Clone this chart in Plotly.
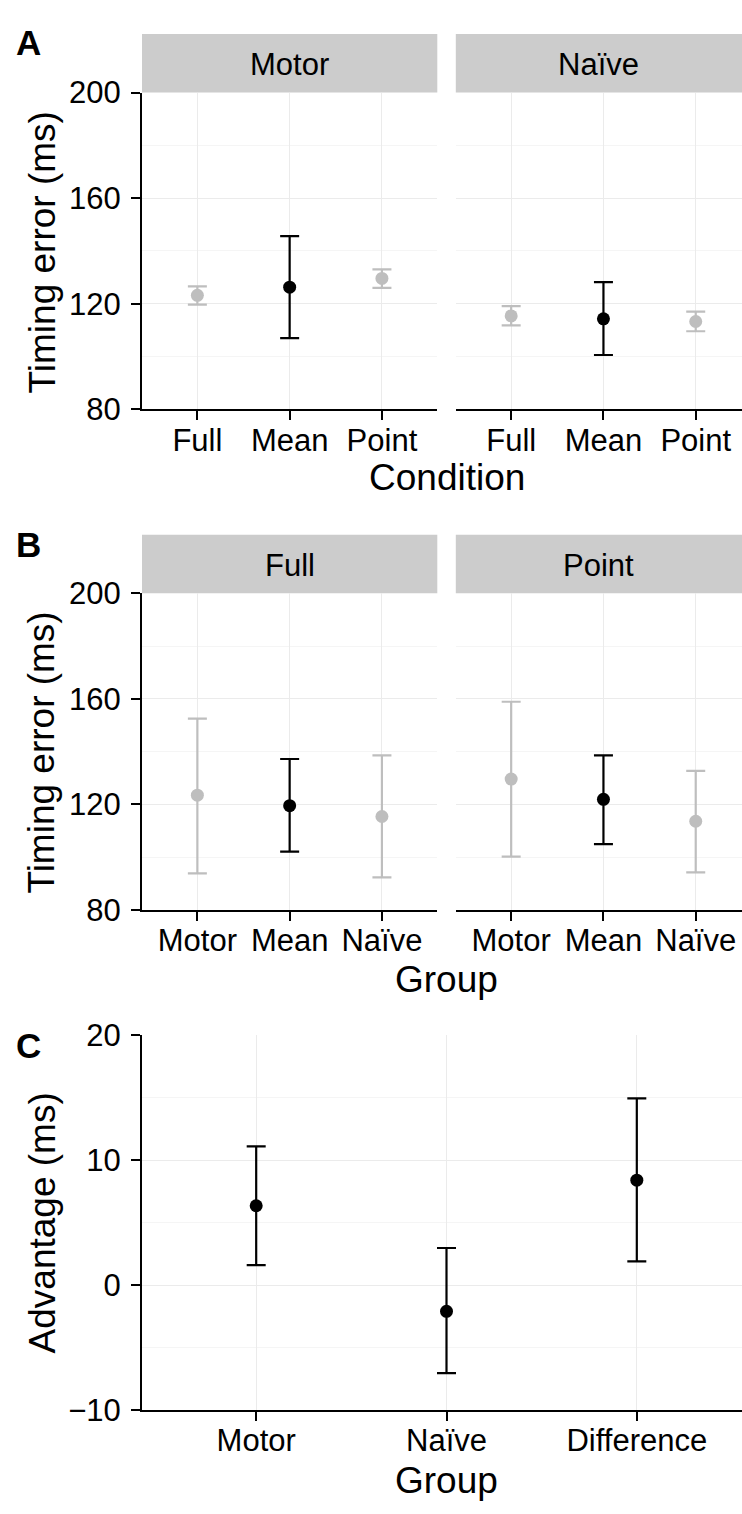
import plotly.graph_objects as go

# ---------------- data ----------------
conditions = ["Full", "Mean", "Point"]
a_motor_mean = [123.2, 126.3, 129.6]
a_motor_lo = [119.7, 107.0, 126.0]
a_motor_hi = [126.6, 145.6, 133.0]
a_naive_mean = [115.4, 114.3, 113.3]
a_naive_lo = [111.8, 100.6, 109.6]
a_naive_hi = [119.1, 128.2, 117.0]

groups_b = ["Motor", "Mean", "Naïve"]
b_full_mean = [123.5, 119.5, 115.4]
b_full_lo = [93.8, 102.1, 92.3]
b_full_hi = [152.5, 137.2, 138.6]
b_point_mean = [129.6, 121.9, 113.6]
b_point_lo = [100.2, 104.9, 94.2]
b_point_hi = [158.9, 138.6, 132.7]

groups_c = ["Motor", "Naïve", "Difference"]
c_mean = [6.35, -2.1, 8.4]
c_lo = [1.6, -7.05, 1.9]
c_hi = [11.1, 2.97, 14.95]

facet_labels_a = ["Motor", "Naïve"]
facet_labels_b = ["Full", "Point"]
panel_letters = ["A", "B", "C"]

# ---------------- layout helpers ----------------
W, H = 742, 1514
FONT = "Liberation Sans, Arial, Helvetica, sans-serif"
GREY = "#BEBEBE"
BLACK = "#000000"
TICK_SIZE = 31
TITLE_SIZE = 37


def fx(px):
    return px / W


def fy(py):
    return 1 - py / H


fig = go.Figure()


def add_points(cats, means, los, his, xa, ya, highlight=None):
    for c, m, lo, hi in zip(cats, means, los, his):
        col = BLACK if (highlight is None or c == highlight) else GREY
        fig.add_trace(go.Scatter(
            x=[c], y=[m], mode="markers",
            marker=dict(size=13, color=col),
            error_y=dict(type="data", symmetric=False, array=[hi - m],
                         arrayminus=[m - lo], width=9.5, thickness=2.2, color=col),
            xaxis=xa, yaxis=ya, hoverinfo="skip", showlegend=False,
        ))


add_points(conditions, a_motor_mean, a_motor_lo, a_motor_hi, "x", "y", "Mean")
add_points(conditions, a_naive_mean, a_naive_lo, a_naive_hi, "x2", "y2", "Mean")
add_points(groups_b, b_full_mean, b_full_lo, b_full_hi, "x3", "y3", "Mean")
add_points(groups_b, b_point_mean, b_point_lo, b_point_hi, "x4", "y4", "Mean")
add_points(groups_c, c_mean, c_lo, c_hi, "x5", "y5", None)

# pixel geometry
F1 = (142, 437.3)
F2 = (455.8, 742)
A_Y = (77.3, 401.7)
B_Y = (590, 914)
C_Y = (1042.3, 1426)
C_X = (142, 742)

common_x = dict(
    type="category", showline=True, linecolor="black", linewidth=2,
    ticks="outside", ticklen=9, tickwidth=2, tickcolor="black",
    showgrid=True, gridcolor="#EBEBEB", gridwidth=1.2,
    tickfont=dict(size=TICK_SIZE, color="black", family=FONT),
    ticklabelstandoff=-7,
    zeroline=False, fixedrange=True,
)


def y_axis(rng, dtick, minor_dtick, tick0, show):
    d = dict(
        range=rng, dtick=dtick, tick0=tick0,
        showgrid=True, gridcolor="#EBEBEB", gridwidth=1.2,
        minor=dict(dtick=minor_dtick, tick0=tick0, showgrid=True,
                   gridcolor="#F5F5F5", gridwidth=1.2, ticks=""),
        zeroline=False, fixedrange=True,
        tickfont=dict(size=TICK_SIZE, color="black", family=FONT),
    )
    if show:
        d.update(showline=True, linecolor="black", linewidth=2,
                 ticks="outside", ticklen=9, tickwidth=2, tickcolor="black",
                 showticklabels=True, ticklabelstandoff=4)
    else:
        d.update(showline=False, ticks="", showticklabels=False)
    return d


f_unit = (F1[1] - F1[0]) / 3.2
end_f2 = -0.6 + (F2[1] - F2[0]) / f_unit
c_unit = (751 - 142) / 3.2
end_c = -0.6 + (C_X[1] - C_X[0]) / c_unit

fig.update_layout(
    width=W, height=H, margin=dict(l=0, r=0, t=0, b=0),
    paper_bgcolor="white", plot_bgcolor="white", showlegend=False,
    font=dict(family=FONT, color="black"),
    xaxis=dict(common_x, domain=[fx(F1[0]), fx(F1[1])], range=[-0.6, 2.6], anchor="y",
               categoryorder="array", categoryarray=conditions),
    yaxis=dict(y_axis([80, 200], 40, 20, 80, True), domain=[fy(A_Y[1]), fy(A_Y[0])], anchor="x"),
    xaxis2=dict(common_x, domain=[fx(F2[0]), fx(F2[1])], range=[-0.6, end_f2], anchor="y2",
                categoryorder="array", categoryarray=conditions),
    yaxis2=dict(y_axis([80, 200], 40, 20, 80, False), domain=[fy(A_Y[1]), fy(A_Y[0])], anchor="x2"),
    xaxis3=dict(common_x, domain=[fx(F1[0]), fx(F1[1])], range=[-0.6, 2.6], anchor="y3",
                categoryorder="array", categoryarray=groups_b),
    yaxis3=dict(y_axis([80, 200], 40, 20, 80, True), domain=[fy(B_Y[1]), fy(B_Y[0])], anchor="x3"),
    xaxis4=dict(common_x, domain=[fx(F2[0]), fx(F2[1])], range=[-0.6, end_f2], anchor="y4",
                categoryorder="array", categoryarray=groups_b),
    yaxis4=dict(y_axis([80, 200], 40, 20, 80, False), domain=[fy(B_Y[1]), fy(B_Y[0])], anchor="x4"),
    xaxis5=dict(common_x, domain=[fx(C_X[0]), fx(C_X[1])], range=[-0.6, end_c], anchor="y5",
                categoryorder="array", categoryarray=groups_c),
    yaxis5=dict(y_axis([-10, 20], 10, 5, -10, True), domain=[fy(C_Y[1]), fy(C_Y[0])], anchor="x5"),
)

shapes = []
annotations = []

# strips
for (top, bot), labels in [((17.3, 77.3), facet_labels_a), ((530, 590), facet_labels_b)]:
    for (x0, x1), lab in zip([F1, F2], labels):
        shapes.append(dict(type="rect", xref="paper", yref="paper",
                           x0=fx(x0), x1=fx(x1), y0=fy(bot), y1=fy(top),
                           fillcolor="#CCCCCC", line=dict(width=0), layer="below"))
        annotations.append(dict(text=lab, xref="paper", yref="paper",
                                x=fx((x0 + x1) / 2), y=fy((top + bot) / 2 + 1),
                                xanchor="center", yanchor="middle", showarrow=False,
                                font=dict(size=TICK_SIZE, color="black", family=FONT)))

# panel letters
for lab, yc in zip(panel_letters, [26, 539.5, 1052.5]):
    annotations.append(dict(text="<b>%s</b>" % lab, xref="paper", yref="paper",
                            x=fx(28.5), y=fy(yc), xanchor="center", yanchor="middle",
                            showarrow=False, font=dict(size=35, color="black", family=FONT)))

# axis titles
for txt, xc, yc in [("Condition", 446.5, 471.7), ("Group", 446.5, 985.5), ("Group", 446.5, 1498.5)]:
    annotations.append(dict(text=txt, xref="paper", yref="paper", x=fx(xc), y=fy(yc),
                            xanchor="center", yanchor="middle", showarrow=False,
                            font=dict(size=TITLE_SIZE, color="black", family=FONT)))
for txt, yc in [("Timing error (ms)", 241), ("Timing error (ms)", 753), ("Advantage (ms)", 1235)]:
    annotations.append(dict(text=txt, xref="paper", yref="paper", x=fx(42), y=fy(yc),
                            xanchor="center", yanchor="middle", textangle=-90, showarrow=False,
                            font=dict(size=TITLE_SIZE, color="black", family=FONT)))

fig.update_layout(shapes=shapes, annotations=annotations)
fig.write_html(
    "out.html",
    config={"displayModeBar": False},
    post_script="document.body.style.margin='0';document.body.style.overflow='hidden';",
)
